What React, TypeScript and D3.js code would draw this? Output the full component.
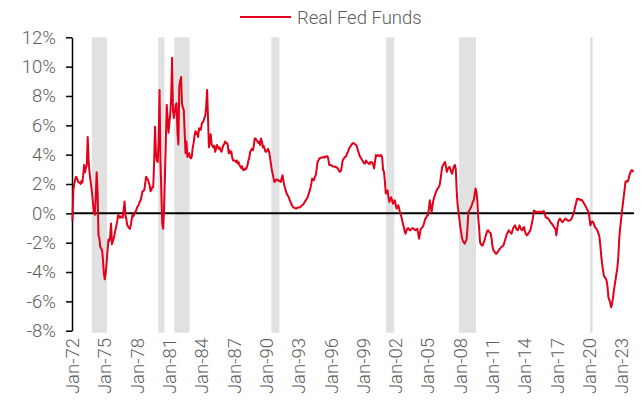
import React, { useEffect, useRef } from "react";
import * as d3 from "d3";

// monthly real fed funds (%), one row per year starting Jan-72
const firstYear = 1972;
const realFedFunds: number[][] = [
  [-0.5, 1.6, 2.0, 2.3, 2.5, 2.4, 2.2, 2.1, 2.1, 2.0, 2.2, 2.1],
  [2.6, 3.3, 2.8, 3.1, 3.3, 5.2, 3.6, 2.8, 2.3, 1.8, 1.3, 0.6],
  [0.0, -0.1, 1.2, 2.8, 1.5, -1.5, -1.7, -2.3, -2.4, -2.5, -3.2, -4.1],
  [-4.5, -4.1, -3.4, -2.6, -1.8, -1.9, -1.6, -0.7, -2.1, -1.9, -1.7, -1.4],
  [-1.1, -0.8, -0.5, -0.1, -0.2, -0.3, -0.2, -0.25, -0.3, 0.2, 0.8, -0.1],
  [-0.4, -0.8, -0.9, -1.0, -1.05, -0.8, -0.4, -0.1, -0.2, 0.0, 0.1, 0.2],
  [0.4, 0.5, 0.6, 0.8, 0.9, 1.2, 1.5, 1.5, 1.6, 2.0, 2.5, 2.4],
  [2.3, 2.1, 1.9, 1.5, 1.6, 1.8, 1.8, 3.5, 5.9, 4.1, 3.6, 3.5],
  [5.0, 8.4, 3.6, 1.5, -0.7, -1.05, 0.2, 2.5, 4.8, 7.4, 6.5, 5.5],
  [6.2, 6.8, 8.0, 10.6, 7.0, 6.5, 6.9, 7.4, 7.5, 5.5, 4.7, 8.65],
  [9.0, 9.3, 7.5, 7.2, 7.05, 5.5, 4.1, 4.9, 3.85, 4.0, 4.1, 3.8],
  [3.75, 3.9, 4.5, 4.8, 5.3, 5.6, 5.4, 5.5, 5.2, 5.8, 5.7, 5.7],
  [6.1, 6.2, 6.3, 6.5, 6.7, 7.3, 8.4, 6.5, 4.5, 4.9, 5.4, 4.7],
  [4.6, 4.5, 4.6, 4.2, 4.4, 4.66, 4.5, 4.4, 4.5, 4.3, 4.2, 4.4],
  [4.66, 4.7, 4.9, 4.8, 4.8, 4.66, 4.1, 4.3, 4.1, 4.2, 3.8, 3.6],
  [3.6, 3.6, 3.5, 3.6, 3.4, 3.5, 3.3, 3.2, 3.1, 3.2, 2.95, 2.95],
  [3.06, 3.0, 3.1, 3.3, 3.6, 3.8, 4.2, 4.3, 4.4, 4.3, 4.6, 5.1],
  [5.1, 5.0, 4.9, 4.8, 4.9, 4.66, 5.1, 4.9, 4.5, 4.6, 4.4, 4.2],
  [4.2, 4.3, 4.4, 4.2, 3.85, 3.4, 3.0, 2.7, 2.4, 2.14, 2.2, 2.3],
  [2.3, 2.26, 2.2, 2.2, 2.14, 2.4, 2.6, 2.2, 1.9, 1.7, 1.46, 1.3],
  [1.2, 1.1, 0.9, 0.77, 0.6, 0.5, 0.39, 0.4, 0.35, 0.32, 0.35, 0.4],
  [0.4, 0.39, 0.45, 0.5, 0.55, 0.6, 0.7, 0.8, 0.9, 1.0, 1.1, 1.3],
  [1.5, 1.7, 2.0, 2.37, 2.3, 2.26, 2.5, 2.6, 3.0, 3.5, 3.6, 3.75],
  [3.75, 3.8, 3.8, 3.8, 3.85, 3.8, 3.85, 3.9, 3.9, 3.7, 3.3, 3.3],
  [3.3, 3.25, 3.2, 3.2, 3.2, 3.15, 3.15, 3.1, 3.0, 2.9, 2.83, 2.9],
  [3.2, 3.6, 3.7, 3.8, 3.85, 3.9, 4.1, 4.2, 4.4, 4.5, 4.6, 4.7],
  [4.77, 4.8, 4.75, 4.7, 4.66, 4.5, 4.3, 4.1, 3.9, 3.8, 3.7, 3.6],
  [3.5, 3.4, 3.4, 3.6, 3.5, 3.45, 3.4, 3.35, 3.5, 3.5, 3.45, 3.3],
  [3.06, 3.5, 3.97, 3.9, 3.95, 3.97, 3.9, 3.95, 3.97, 3.8, 2.95, 2.83],
  [2.2, 1.35, 1.5, 1.57, 1.1, 0.77, 1.0, 1.1, 0.9, 0.66, 0.8, 0.89],
  [0.6, 0.32, 0.4, 0.55, 0.3, 0.0, -0.14, -0.4, -0.7, -0.9, -1.2, -1.39],
  [-1.2, -1.05, -1.0, -1.1, -1.16, -1.1, -1.05, -1.0, -1.05, -1.1, -1.16, -1.1],
  [-1.05, -1.3, -1.73, -1.4, -1.05, -1.0, -0.94, -0.8, -0.6, -0.37, -0.3, -0.14],
  [-0.14, 0.3, 0.89, 0.5, 0.09, 0.5, 0.89, 1.1, 1.3, 1.46, 1.6, 1.7],
  [1.8, 1.92, 2.3, 2.8, 3.2, 3.3, 3.4, 3.5, 3.2, 2.83, 3.0, 3.1],
  [3.17, 3.0, 2.8, 2.7, 3.0, 3.2, 3.3, 3.0, 1.5, 0.6, 0.1, -0.36],
  [-0.9, -1.3, -1.7, -1.9, -2.0, -2.07, -1.9, -1.8, -1.0, 0.09, 0.2, 0.3],
  [0.43, 0.6, 0.8, 0.89, 1.3, 1.7, 1.46, 0.9, -0.3, -1.0, -1.96, -2.1],
  [-2.19, -2.19, -2.0, -1.85, -1.6, -1.4, -1.2, -1.16, -1.25, -1.3, -1.39, -1.8],
  [-2.3, -2.53, -2.6, -2.7, -2.76, -2.7, -2.6, -2.5, -2.42, -2.35, -2.3, -2.25],
  [-2.19, -2.0, -1.8, -1.6, -1.39, -1.3, -1.16, -1.25, -1.3, -1.39, -1.2, -1.0],
  [-0.9, -0.82, -1.0, -1.1, -1.16, -1.0, -0.82, -1.0, -1.1, -1.16, -1.0, -0.93],
  [-1.2, -1.4, -1.5, -1.45, -1.35, -1.25, -1.16, -0.9, -0.6, -0.3, 0.2, 0.15],
  [0.1, 0.09, 0.1, 0.05, 0.12, 0.09, 0.1, 0.05, 0.12, 0.16, 0.0, -0.25],
  [-0.3, -0.3, -0.36, -0.45, -0.55, -0.65, -0.7, -0.8, -0.9, -1.0, -1.05, -1.5],
  [-1.0, -0.6, -0.45, -0.36, -0.45, -0.55, -0.6, -0.5, -0.45, -0.36, -0.4, -0.45],
  [-0.5, -0.5, -0.48, -0.45, -0.35, -0.2, -0.02, 0.2, 0.45, 0.7, 1.0, 0.95],
  [1.0, 0.95, 0.9, 0.93, 0.85, 0.75, 0.65, 0.55, 0.45, 0.3, 0.2, 0.09],
  [-0.4, -0.82, -0.6, -0.55, -0.6, -0.75, -0.94, -1.0, -1.1, -1.2, -1.4, -1.6],
  [-2.2, -2.9, -3.45, -3.9, -4.25, -4.35, -4.45, -4.6, -5.0, -5.73, -5.9, -6.1],
  [-6.4, -6.2, -5.8, -5.3, -4.9, -4.5, -4.1, -3.7, -3.0, -1.8, -1.05, -0.5],
  [0.09, 0.6, 1.1, 1.6, 2.14, 2.2, 2.15, 2.2, 2.5, 2.7, 2.85, 2.95],
  [2.9, 2.83],
];

// NBER recessions, first and last month
const recessionStarts = ["1973-11", "1980-01", "1981-07", "1990-07", "2001-03", "2007-12", "2020-02"];
const recessionEnds = ["1975-03", "1980-07", "1982-11", "1991-03", "2001-11", "2009-06", "2020-04"];

const yTicks = [-8, -6, -4, -2, 0, 2, 4, 6, 8, 10, 12];
const xTickYears = [1972, 1975, 1978, 1981, 1984, 1987, 1990, 1993, 1996, 1999, 2002, 2005, 2008, 2011, 2014, 2017, 2020, 2023];

const RED = "#e2001a";
const GREY_TEXT = "#5e5e5e";
const FONT = "Roboto, 'Liberation Sans', Arial, sans-serif";

const monthKey = (y: number, m: number) => `${y}-${String(m + 1).padStart(2, "0")}`;

function RealFedChart() {
  const ref = useRef<SVGSVGElement>(null);

  useEffect(() => {
    const svg = d3.select(ref.current);
    svg.selectAll("*").remove();

    const data: { key: string; value: number }[] = [];
    realFedFunds.forEach((row, yi) =>
      row.forEach((v, mi) => data.push({ key: monthKey(firstYear + yi, mi), value: v }))
    );

    const x = d3.scaleBand<string>().domain(data.map((d) => d.key)).range([72, 634]);
    const y = d3.scaleLinear().domain([-8, 12]).range([330.7, 37.3]);
    const bw = x.bandwidth();

    // recession shading
    svg.append("g")
      .selectAll("rect")
      .data(recessionStarts.map((s, i) => [s, recessionEnds[i]]))
      .join("rect")
      .attr("x", (d) => x(d[0])!)
      .attr("width", (d) => x(d[1])! - x(d[0])! + bw)
      .attr("y", y(12))
      .attr("height", y(-8) - y(12) + 2)
      .attr("fill", "#e1e1e1");

    // y axis
    const yAxis = svg.append("g").attr("transform", "translate(72,0)")
      .call(d3.axisLeft(y).tickValues(yTicks).tickSize(6).tickSizeOuter(0).tickFormat((d) => `${d}%`));
    yAxis.select(".domain").attr("stroke", "#000").attr("stroke-width", 1.5);
    yAxis.selectAll(".tick line").attr("stroke", "#000").attr("stroke-width", 1.5);
    yAxis.selectAll(".tick text")
      .attr("x", -16)
      .attr("fill", GREY_TEXT)
      .style("font-family", FONT)
      .style("font-weight", 300)
      .style("font-size", "18.5px");

    // zero line / category axis
    svg.append("line")
      .attr("x1", 72).attr("x2", 634)
      .attr("y1", y(0)).attr("y2", y(0))
      .attr("stroke", "#000").attr("stroke-width", 2);

    // x labels, rotated
    svg.append("g")
      .selectAll("text")
      .data(xTickYears)
      .join("text")
      .attr("transform", (d) => `translate(${x(monthKey(d, 0))! + bw / 2 + 6.5},338) rotate(-90)`)
      .attr("text-anchor", "end")
      .attr("fill", GREY_TEXT)
      .style("font-family", FONT)
      .style("font-weight", 300)
      .style("font-size", "18.5px")
      .text((d) => `Jan-${String(d).slice(2)}`);

    // line
    const line = d3.line<{ key: string; value: number }>()
      .x((d) => x(d.key)! + bw / 2)
      .y((d) => y(d.value));
    svg.append("path")
      .datum(data)
      .attr("fill", "none")
      .attr("stroke", RED)
      .attr("stroke-width", 2)
      .attr("stroke-linejoin", "round")
      .attr("d", line);

    // legend
    svg.append("line")
      .attr("x1", 240).attr("x2", 291).attr("y1", 17).attr("y2", 17)
      .attr("stroke", RED).attr("stroke-width", 2);
    svg.append("text")
      .attr("x", 297).attr("y", 23.5)
      .attr("fill", GREY_TEXT)
      .style("font-family", FONT)
      .style("font-weight", 300)
      .style("font-size", "18.5px")
      .text("Real Fed Funds");
  }, []);

  return <svg ref={ref} width={642} height={408} style={{ display: "block" }} />;
}

export default function App() {
  return (
    <div style={{ margin: -8 }}>
      <RealFedChart />
    </div>
  );
}
